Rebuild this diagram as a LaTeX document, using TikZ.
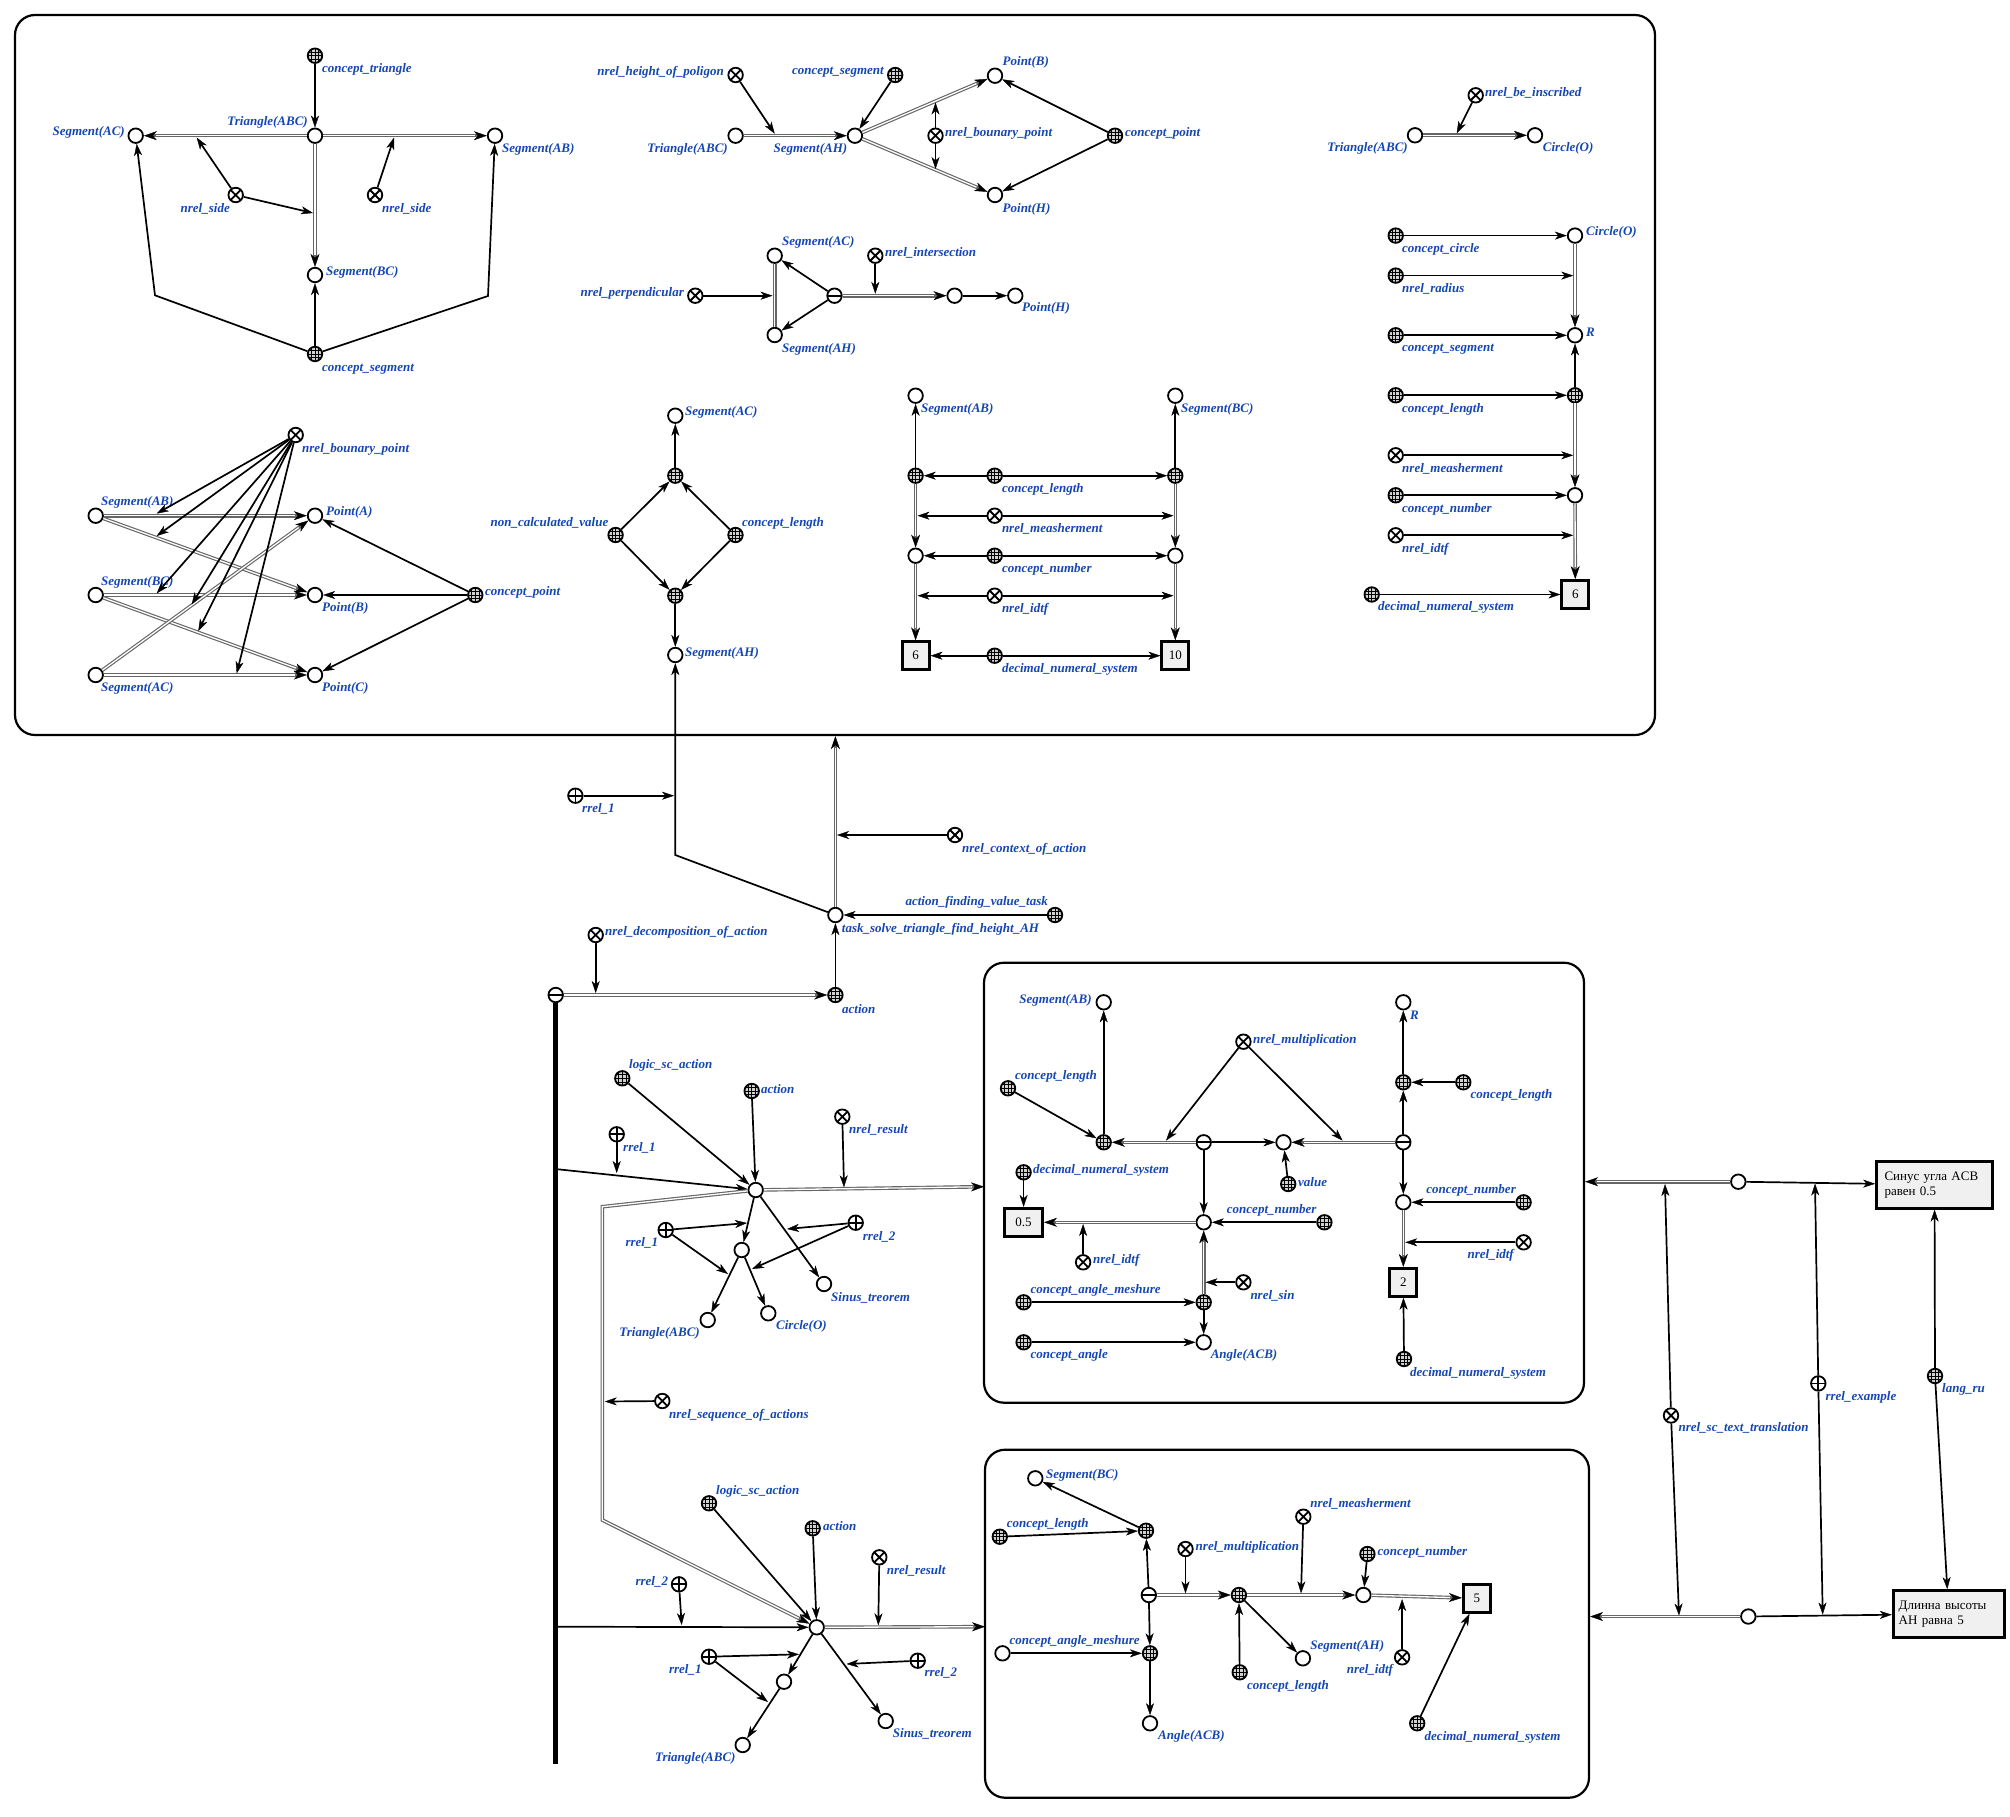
\documentclass[tikz,border=0pt]{standalone}
\usepackage{fontspec}
\setmainfont{Liberation Serif}
\newfontfamily\serif{Liberation Serif}
\usetikzlibrary{arrows.meta}
\definecolor{lblblue}{RGB}{20,70,180}
\newcommand{\lblw}[3]{\node[lbl,anchor=west] (#1) at (#2) {#3};}
\newcommand{\lble}[3]{\node[lbl,anchor=east] (#1) at (#2) {#3};}
\tikzset{
  nd/.style={circle, draw, line width=1.8pt, fill=white, minimum size=14.5pt, inner sep=0pt},
  plain/.style={nd},
  cls/.style={nd, fill=gray!35, path picture={
     \foreach \d in {-3.6,0,3.6}{
       \draw[line width=0.7pt] ([xshift=\d pt]path picture bounding box.north) -- ([xshift=\d pt]path picture bounding box.south);
       \draw[line width=0.7pt] ([yshift=\d pt]path picture bounding box.west) -- ([yshift=\d pt]path picture bounding box.east);}}},
  rel/.style={nd, path picture={\draw[line width=1.8pt] (path picture bounding box.north west) -- (path picture bounding box.south east) (path picture bounding box.north east) -- (path picture bounding box.south west);}},
  role/.style={nd, path picture={\draw[line width=1.8pt] (path picture bounding box.north) -- (path picture bounding box.south) (path picture bounding box.west) -- (path picture bounding box.east);}},
  tup/.style={nd, path picture={\draw[line width=1.8pt] (path picture bounding box.west) -- (path picture bounding box.east);}},
  lnk/.style={draw, line width=2.8pt, fill=gray!12, minimum width=27pt, minimum height=28pt, inner sep=2pt,
     font=\serif\fontsize{13}{15}\selectfont,
     path picture={\fill (path picture bounding box.north west) -- ++(7pt,0pt) -- ++(-7pt,-7pt) -- cycle;}},
  txtl/.style={lnk, minimum width=116pt, minimum height=47pt, align=left, text width=100pt, inner sep=5pt},
  contour/.style={draw, line width=2.2pt, rounded corners=20pt, inner sep=0pt},
  lbl/.style={text=lblblue, font=\serif\bfseries\itshape\fontsize{13}{15}\selectfont, inner sep=1pt},
  arr/.style={line width=1.7pt, -{Stealth[length=12pt, width=8pt, inset=3.5pt, line width=0.4pt]}},
  dbl/.style={draw=black!60, line width=3.6pt, -{Stealth[length=13pt, width=9pt, inset=4pt, line width=0.4pt, color=black]},
     postaction={draw=white, line width=1.3pt, -, shorten >=12pt}},
  dble/.style={draw=black!60, line width=3.6pt, postaction={draw=white, line width=1.3pt}},
  bus/.style={line width=5pt}
}
\begin{document}
\begin{tikzpicture}[x=1pt,y=-1pt]
\useasboundingbox (0,0) rectangle (2010,1817);
% contours
\node[contour, minimum width=1640pt, minimum height=720pt] (C0) at (835,375) {};
\node[contour, minimum width=600pt, minimum height=440pt] (B1) at (1284,1182.7) {};
\node[contour, minimum width=604pt, minimum height=348pt] (B2) at (1287,1623.7) {};

% ---------- top-left
\node[cls] (ctri) at (315,55.7) {};
\node[plain] (tri1) at (315,135.7) {};
\node[plain] (sAC1) at (135.7,135.7) {};
\node[plain] (sAB1) at (495,135.7) {};
\node[rel] (ns1) at (235.7,195) {};
\node[rel] (ns2) at (375,195) {};
\node[plain] (sBC1) at (315,275) {};
\node[cls] (cseg1) at (315,354) {};
\coordinate (m1) at (196.7,137.6);
\coordinate (m2) at (313,213);
\coordinate (m3) at (394,137.6);
\coordinate (bL) at (155,295.3);
\coordinate (bR) at (488,296);
\lblw{lctri}{321,69}{concept\_triangle}
\lble{ltri1}{309,122.7}{Triangle(ABC)}
\lble{lsAC1}{126,132.7}{Segment(AC)}
\lblw{lsAB1}{501,149}{Segment(AB)}
\lble{lns1}{231,209}{nrel\_side}
\lblw{lns2}{381,209}{nrel\_side}
\lblw{lsBC1}{325,272.7}{Segment(BC)}
\lblw{lcseg1}{321,369}{concept\_segment}

% ---------- top-middle
\node[rel] (nhp) at (735.6,75) {};
\node[cls] (cseg2) at (895.2,75) {};
\node[plain] (tri2) at (735.6,135.7) {};
\node[plain] (sAH2) at (854.9,135.7) {};
\coordinate (m4) at (774.7,133.7);
\node[plain] (pB2) at (995,75.7) {};
\node[plain] (pH2) at (995,195) {};
\node[rel] (nbp2) at (935.5,135.7) {};
\coordinate (m5) at (935.5,102.5);
\coordinate (m6) at (935.5,169);
\node[cls] (cpt2) at (1115,135.7) {};
\lble{lnhp}{725,72.7}{nrel\_height\_of\_poligon}
\lble{lcseg2}{885,72.7}{concept\_segment}
\lble{ltri2}{729,149}{Triangle(ABC)}
\lble{lsAH2}{848.4,149}{Segment(AH)}
\lblw{lpB2}{1001.5,62.7}{Point(B)}
\lblw{lpH2}{1001.5,209}{Point(H)}
\lblw{lnbp2}{944,133.3}{nrel\_bounary\_point}
\lblw{lcpt2}{1124,133.3}{concept\_point}

\node[plain] (sAC3) at (774.7,255.7) {};
\node[plain] (sAH3) at (774.7,335) {};
\node[rel] (nperp) at (695.3,295.7) {};
\coordinate (m7) at (772.5,295.7);
\node[tup] (tup3) at (834.5,295.7) {};
\node[plain] (n3) at (954.6,295.7) {};
\node[rel] (nint) at (875.3,255.7) {};
\coordinate (m8) at (875.3,293.8);
\node[plain] (pH3) at (1015.3,295.7) {};
\lblw{lsAC3}{781,242.7}{Segment(AC)}
\lblw{lsAH3}{781,349}{Segment(AH)}
\lble{lnperp}{685,293.3}{nrel\_perpendicular}
\lblw{lnint}{884,252.7}{nrel\_intersection}
\lblw{lpH3}{1021,308.7}{Point(H)}

% ---------- top-right
\node[rel] (nbi) at (1475.7,95.3) {};
\node[plain] (tri4) at (1415,135.3) {};
\node[plain] (cO4) at (1535,135.3) {};
\coordinate (m9) at (1456.7,133.3);
\lblw{lnbi}{1484,92.7}{nrel\_be\_inscribed}
\lble{ltri4}{1409,148.4}{Triangle(ABC)}
\lblw{lcO4}{1541.7,148.4}{Circle(O)}

\node[cls] (ccirc) at (1395.7,235.6) {};
\node[plain] (cO5) at (1575,235.6) {};
\node[cls] (nrad) at (1395.7,275.6) {};
\node[plain] (R5) at (1575,335.3) {};
\coordinate (m10) at (1573.2,275.6);
\node[cls] (cseg5) at (1395.7,335.3) {};
\node[cls] (clen5) at (1395.7,395.3) {};
\node[cls] (k5) at (1575,395.3) {};
\node[rel] (nmeas5) at (1395.7,455.3) {};
\coordinate (m11) at (1573.2,455.3);
\node[plain] (v5) at (1575,495.3) {};
\node[cls] (cnum5) at (1395.7,495.3) {};
\node[rel] (nidtf5) at (1395.7,535.3) {};
\coordinate (m12) at (1573.2,535.3);
\node[lnk] (l6a) at (1575.3,594.5) {6};
\node[cls] (dns5) at (1371.7,594.5) {};
\lblw{lccirc}{1401,249}{concept\_circle}
\lblw{lcO5}{1585,232.7}{Circle(O)}
\lblw{lnrad}{1401,289}{nrel\_radius}
\lblw{lR5}{1585,332.7}{R}
\lblw{lcseg5}{1401,349}{concept\_segment}
\lblw{lclen5}{1401,409}{concept\_length}
\lblw{lnmeas5}{1401,469}{nrel\_measherment}
\lblw{lcnum5}{1401,509}{concept\_number}
\lblw{lnidtf5}{1401,549}{nrel\_idtf}
\lblw{ldns5}{1377,607.3}{decimal\_numeral\_system}

% ---------- middle-left
\node[rel] (nbp4) at (295.7,435) {};
\node[plain] (sAB4) at (95.7,515.7) {};
\node[plain] (sBC4) at (95.7,595) {};
\node[plain] (sAC4) at (95.7,675) {};
\node[plain] (pA4) at (315,515.7) {};
\node[plain] (pB4) at (315,595) {};
\node[plain] (pC4) at (315,675) {};
\node[cls] (cpt4) at (475.3,595) {};
\coordinate (c1) at (156.7,513.6);
\coordinate (c2) at (156.7,536);
\coordinate (c3) at (156.7,593.4);
\coordinate (c4) at (191.7,604.5);
\coordinate (c5) at (198.3,631);
\coordinate (c6) at (236.7,673.4);
\lblw{lnbp4}{301,449}{nrel\_bounary\_point}
\lblw{lsAB4}{100,502.3}{Segment(AB)}
\lblw{lsBC4}{100,582.7}{Segment(BC)}
\lblw{lsAC4}{100,688.3}{Segment(AC)}
\lblw{lpA4}{325,512.7}{Point(A)}
\lblw{lpB4}{321,608.3}{Point(B)}
\lblw{lpC4}{321,688.3}{Point(C)}
\lblw{lcpt4}{484,592.7}{concept\_point}

% ---------- middle-centre
\node[plain] (sAC6) at (675.3,415.7) {};
\node[cls] (k6t) at (675.3,475.7) {};
\node[cls] (ncv) at (615.6,535) {};
\node[cls] (clen6) at (735.5,535) {};
\node[cls] (k6b) at (675.3,595.7) {};
\node[plain] (sAH6) at (675.3,655) {};
\lblw{lsAC6}{684,412.7}{Segment(AC)}
\lble{lncv}{609.5,523.3}{non\_calculated\_value}
\lblw{lclen6}{741,523.3}{concept\_length}
\lblw{lsAH6}{684,653.3}{Segment(AH)}

\node[plain] (sAB7) at (915.6,395.7) {};
\node[plain] (sBC7) at (1175.3,395.7) {};
\node[cls] (kL) at (915.6,475.7) {};
\node[cls] (kR) at (1175.3,475.7) {};
\node[cls] (clen7) at (994.7,475.7) {};
\node[rel] (nmeas7) at (994.7,515.7) {};
\node[plain] (vL) at (915.6,555.7) {};
\node[plain] (vR) at (1175.3,555.7) {};
\node[cls] (cnum7) at (994.7,555.7) {};
\node[rel] (nidtf7) at (994.7,595.7) {};
\node[lnk] (l6) at (915.6,655.7) {6};
\node[lnk] (l10) at (1175.3,655.7) {10};
\node[cls] (dns7) at (994.7,655.7) {};
\coordinate (mL1) at (917.5,515.7);
\coordinate (mR1) at (1173.5,515.7);
\coordinate (mL2) at (917.5,595.7);
\coordinate (mR2) at (1173.5,595.7);
\lblw{lsAB7}{920,409}{Segment(AB)}
\lblw{lsBC7}{1180,409}{Segment(BC)}
\lblw{lclen7}{1000.8,489}{concept\_length}
\lblw{lnmeas7}{1000.8,529}{nrel\_measherment}
\lblw{lcnum7}{1000.8,569}{concept\_number}
\lblw{lnidtf7}{1000.8,609}{nrel\_idtf}
\lblw{ldns7}{1000.8,669}{decimal\_numeral\_system}

% ---------- task
\node[role] (rr1a) at (575.4,795.7) {};
\node[plain] (task) at (835.4,915) {};
\coordinate (bT) at (675.3,855);
\coordinate (m13) at (674,795.7);
\node[rel] (nctx) at (955,835) {};
\coordinate (m14) at (837,835);
\node[cls] (afvt) at (1055,915) {};
\node[cls] (act0) at (835.4,995) {};
\node[tup] (tup0) at (555.7,995) {};
\node[rel] (ndec) at (595.7,935) {};
\coordinate (m15) at (595.7,993);
\coordinate (busend) at (555.7,1764);
\lblw{lrr1a}{581,809}{rrel\_1}
\lblw{ltask}{840.7,929}{task\_solve\_triangle\_find\_height\_AH}
\lblw{lnctx}{961,849}{nrel\_context\_of\_action}
\lble{lafvt}{1049,902.7}{action\_finding\_value\_task}
\lblw{lact0}{841,1009}{action}
\lblw{lndec}{604,932.7}{nrel\_decomposition\_of\_action}

% ---------- first action
\node[cls] (lsa1) at (622.3,1078.3) {};
\node[cls] (act1) at (751.7,1091) {};
\node[rel] (nres1) at (842.3,1116.7) {};
\node[role] (rr1b) at (616.7,1134.3) {};
\node[plain] (A1) at (755.7,1190) {};
\coordinate (bus1) at (558,1169.3);
\coordinate (m16) at (616.7,1173);
\coordinate (b1in) at (984,1186.7);
\coordinate (m17) at (844,1187.3);
\node[role] (rr1c) at (665.7,1230) {};
\node[role] (rr2c) at (855.7,1222.7) {};
\node[plain] (B1n) at (741.7,1250) {};
\node[plain] (sin1) at (824,1284) {};
\node[plain] (tri8) at (707.7,1320) {};
\node[plain] (cO8) at (768.3,1313.3) {};
\coordinate (m18) at (747,1223);
\coordinate (m19) at (728,1274);
\coordinate (m20) at (787,1229);
\coordinate (m21) at (752,1269);
\node[rel] (nseq) at (662.3,1401) {};
\coordinate (m22) at (604.8,1401.5);
\coordinate (dA) at (602.3,1206.7);
\coordinate (dB) at (602.3,1520);
\lblw{llsa1}{628,1065.7}{logic\_sc\_action}
\lblw{lact1}{760,1089}{action}
\lblw{lnres1}{848,1130}{nrel\_result}
\lblw{lrr1b}{622,1147.7}{rrel\_1}
\lble{lrr1c}{659.3,1243.3}{rrel\_1}
\lblw{lrr2c}{861.7,1236.7}{rrel\_2}
\lblw{lsin1}{830,1297.7}{Sinus\_treorem}
\lble{ltri8}{701,1333.3}{Triangle(ABC)}
\lblw{lcO8}{775,1326.7}{Circle(O)}
\lblw{lnseq}{668,1415}{nrel\_sequence\_of\_actions}

% ---------- second action
\node[cls] (lsa2) at (709,1503.3) {};
\node[cls] (act2) at (812.7,1528.3) {};
\node[rel] (nres2) at (879.3,1557.3) {};
\node[role] (rr2d) at (679,1584.3) {};
\node[plain] (A2) at (816.7,1627.3) {};
\coordinate (bus2) at (558,1626.7);
\coordinate (m23) at (681.7,1625);
\coordinate (b2in) at (985,1626.7);
\coordinate (m24) at (878.3,1625.3);
\node[role] (rr1d) at (709,1656.7) {};
\node[plain] (B2n) at (784,1681.7) {};
\node[plain] (tri9) at (742.7,1745) {};
\node[role] (rr2e) at (917.7,1660.7) {};
\node[plain] (sin2) at (885.7,1721) {};
\coordinate (m25) at (799,1654.3);
\coordinate (m26) at (768,1702);
\coordinate (m27) at (846.5,1664);
\lblw{llsa2}{715,1491}{logic\_sc\_action}
\lblw{lact2}{822,1526}{action}
\lblw{lnres2}{885.7,1570.7}{nrel\_result}
\lble{lrr2d}{669.3,1581.7}{rrel\_2}
\lble{lrr1d}{702.7,1670}{rrel\_1}
\lble{ltri9}{736.7,1758.3}{Triangle(ABC)}
\lblw{lrr2e}{923.3,1673.3}{rrel\_2}
\lblw{lsin2}{891.7,1734.3}{Sinus\_treorem}

% ---------- box 1
\node[plain] (sAB10) at (1103.7,1002.3) {};
\node[cls] (clen10) at (1008,1088.3) {};
\node[cls] (C1) at (1103.7,1142.3) {};
\node[tup] (T1) at (1203.7,1142.3) {};
\node[rel] (nmul10) at (1243.4,1041.7) {};
\coordinate (m28) at (1166,1140.6);
\node[plain] (V) at (1283.5,1142.3) {};
\node[cls] (val) at (1288.2,1184) {};
\node[tup] (T2) at (1403.3,1142.3) {};
\coordinate (m29) at (1342.6,1140.6);
\node[plain] (R10) at (1403.3,1002.3) {};
\node[cls] (C2) at (1403.3,1082.3) {};
\node[cls] (clen10b) at (1463.3,1082.3) {};
\node[plain] (P1) at (1403.3,1202.3) {};
\node[cls] (cnum10b) at (1523.6,1202.3) {};
\node[lnk] (l2) at (1403.3,1282.3) {2};
\node[rel] (nidtf10b) at (1523.6,1242.3) {};
\coordinate (m30) at (1405.2,1242.3);
\node[cls] (dns10b) at (1404,1359) {};
\node[cls] (dns10a) at (1023.6,1172.3) {};
\node[lnk, minimum width=38pt] (l05) at (1023.6,1222.3) {0.5};
\node[plain] (N1) at (1203.7,1222.3) {};
\node[rel] (nidtf10a) at (1083.1,1262.3) {};
\coordinate (m31) at (1083.1,1224);
\node[cls] (cnum10a) at (1324.4,1222.3) {};
\node[cls] (C3) at (1203.7,1302.3) {};
\node[rel] (nsin) at (1243.4,1282.3) {};
\coordinate (m32) at (1205.5,1282.3);
\node[cls] (cam10) at (1023.6,1302.3) {};
\node[plain] (ang10) at (1203.7,1342.3) {};
\node[cls] (ca10) at (1023.6,1342.3) {};
\lble{lsAB10}{1092.8,1000}{Segment(AB)}
\lblw{lclen10}{1014,1076}{concept\_length}
\lblw{lnmul10}{1252,1040}{nrel\_multiplication}
\lblw{lval}{1297,1181.7}{value}
\lblw{lR10}{1409,1015.7}{R}
\lblw{lclen10b}{1469.5,1095.7}{concept\_length}
\lble{lcnum10b}{1517,1190}{concept\_number}
\lble{lnidtf10b}{1515,1255.7}{nrel\_idtf}
\lblw{ldns10b}{1409,1373.3}{decimal\_numeral\_system}
\lblw{ldns10a}{1032,1170.7}{decimal\_numeral\_system}
\lblw{lnidtf10a}{1092,1260}{nrel\_idtf}
\lble{lcnum10a}{1317.7,1210}{concept\_number}
\lblw{lnsin}{1249.3,1295.7}{nrel\_sin}
\lblw{lcam10}{1029.4,1290}{concept\_angle\_meshure}
\lblw{lang10}{1209.6,1355.7}{Angle(ACB)}
\lblw{lca10}{1029.4,1355.7}{concept\_angle}

% ---------- box 2
\node[plain] (sBC11) at (1035.3,1478.3) {};
\node[cls] (D1) at (1146,1530.7) {};
\node[cls] (clen11) at (999.8,1536.7) {};
\node[tup] (T3) at (1148.8,1595) {};
\node[rel] (nmul11) at (1185.5,1549) {};
\coordinate (m33) at (1185.5,1593.3);
\node[cls] (D2) at (1238.9,1595) {};
\node[rel] (nmeas11) at (1303.3,1516.7) {};
\coordinate (m34) at (1301,1593.3);
\node[plain] (N2) at (1363.4,1595) {};
\node[cls] (cnum11) at (1367.4,1554) {};
\node[lnk] (l5) at (1476.8,1598.3) {5};
\node[rel] (nidtf11) at (1402.1,1657.3) {};
\coordinate (m35) at (1402.1,1599);
\node[cls] (dns11) at (1417.2,1723.3) {};
\node[cls] (clen11b) at (1239.7,1672.3) {};
\node[plain] (sAH11) at (1302.9,1658.3) {};
\node[cls] (D3) at (1150,1653.3) {};
\node[plain] (cam11) at (1002.5,1653.3) {};
\node[plain] (ang11) at (1150,1723.3) {};
\lblw{lsBC11}{1045,1475.7}{Segment(BC)}
\lblw{lclen11}{1005.7,1524.3}{concept\_length}
\lblw{lnmul11}{1194.5,1547.3}{nrel\_multiplication}
\lblw{lnmeas11}{1309.2,1504}{nrel\_measherment}
\lblw{lcnum11}{1376.5,1552.3}{concept\_number}
\lble{lnidtf11}{1394.2,1670.7}{nrel\_idtf}
\lblw{ldns11}{1423.5,1737.7}{decimal\_numeral\_system}
\lblw{lclen11b}{1246,1686.7}{concept\_length}
\lblw{lsAH11}{1309.2,1646}{Segment(AH)}
\lblw{lcam11}{1008.5,1641.7}{concept\_angle\_meshure}
\lblw{lang11}{1157,1736.7}{Angle(ACB)}

% ---------- right side
\node[plain] (U) at (1738.3,1181.7) {};
\node[txtl] (txt1) at (1934.5,1184.7) {Синус угла ACB\\равен 0.5};
\node[plain] (L) at (1748.3,1616.5) {};
\node[txtl, minimum width=111pt] (txt2) at (1948.7,1614) {Длинна высоты\\АН равна 5};
\node[rel] (ntr) at (1671,1415.5) {};
\coordinate (m36) at (1665,1184);
\coordinate (m37) at (1679,1615.5);
\node[role] (rex) at (1818.3,1383.4) {};
\coordinate (m38) at (1815,1183.5);
\coordinate (m39) at (1822.7,1614.5);
\node[cls] (lang) at (1935,1376) {};
\lblw{lntr}{1677.3,1428.3}{nrel\_sc\_text\_translation}
\lblw{lrex}{1824.3,1396.9}{rrel\_example}
\lblw{llang}{1941,1389.5}{lang\_ru}

% ================= connectors
% top-left
\draw[arr] (ctri) -- (tri1);
\draw[dbl] (tri1) -- (sAC1);
\draw[dbl] (tri1) -- (sAB1);
\draw[dbl] (tri1) -- (sBC1);
\draw[arr] (ns1) -- (m1);
\draw[arr] (ns1) -- (m2);
\draw[arr] (ns2) -- (m3);
\draw[arr] (cseg1) -- (sBC1);
\draw[arr] (cseg1) -- (bL) -- (sAC1);
\draw[arr] (cseg1) -- (bR) -- (sAB1);
% top-middle
\draw[dbl] (tri2) -- (sAH2);
\draw[arr] (nhp) -- (m4);
\draw[arr] (cseg2) -- (sAH2);
\draw[dbl] (sAH2) -- (pB2);
\draw[dbl] (sAH2) -- (pH2);
\draw[arr] (nbp2) -- (m5);
\draw[arr] (nbp2) -- (m6);
\draw[arr] (cpt2) -- (pB2);
\draw[arr] (cpt2) -- (pH2);
\draw[dble] (sAC3) -- (sAH3);
\draw[arr] (nperp) -- (m7);
\draw[arr] (tup3) -- (sAC3);
\draw[arr] (tup3) -- (sAH3);
\draw[dbl] (tup3) -- (n3);
\draw[arr] (nint) -- (m8);
\draw[arr] (n3) -- (pH3);
% top-right
\draw[dbl] (tri4) -- (cO4);
\draw[arr] (nbi) -- (m9);
\draw[arr] (ccirc) -- (cO5);
\draw[dbl] (cO5) -- (R5);
\draw[arr] (nrad) -- (m10);
\draw[arr] (cseg5) -- (R5);
\draw[arr] (clen5) -- (k5);
\draw[arr] (k5) -- (R5);
\draw[dbl] (k5) -- (v5);
\draw[arr] (nmeas5) -- (m11);
\draw[arr] (cnum5) -- (v5);
\draw[dbl] (v5) -- (l6a);
\draw[arr] (nidtf5) -- (m12);
\draw[arr] (dns5) -- (l6a);
% middle-left
\draw[dbl] (sAB4) -- (pA4);
\draw[dbl] (sAB4) -- (pB4);
\draw[dbl] (sBC4) -- (pB4);
\draw[dbl] (sBC4) -- (pC4);
\draw[dbl] (sAC4) -- (pC4);
\draw[dbl] (sAC4) -- (pA4);
\foreach \c in {c1,c2,c3,c4,c5,c6} \draw[arr] (nbp4) -- (\c);
\draw[arr] (cpt4) -- (pA4);
\draw[arr] (cpt4) -- (pB4);
\draw[arr] (cpt4) -- (pC4);
% middle-centre
\draw[arr] (k6t) -- (sAC6);
\draw[arr] (ncv) -- (k6t);
\draw[arr] (ncv) -- (k6b);
\draw[arr] (clen6) -- (k6t);
\draw[arr] (clen6) -- (k6b);
\draw[arr] (k6b) -- (sAH6);
\draw[arr] (kL) -- (sAB7);
\draw[arr] (kR) -- (sBC7);
\draw[arr] (clen7) -- (kL);
\draw[arr] (clen7) -- (kR);
\draw[dbl] (kL) -- (vL);
\draw[dbl] (kR) -- (vR);
\draw[arr] (nmeas7) -- (mL1);
\draw[arr] (nmeas7) -- (mR1);
\draw[arr] (cnum7) -- (vL);
\draw[arr] (cnum7) -- (vR);
\draw[dbl] (vL) -- (l6);
\draw[dbl] (vR) -- (l10);
\draw[arr] (nidtf7) -- (mL2);
\draw[arr] (nidtf7) -- (mR2);
\draw[arr] (dns7) -- (l6);
\draw[arr] (dns7) -- (l10);
% task
\draw[arr] (task) -- (bT) -- (sAH6);
\draw[arr] (rr1a) -- (m13);
\draw[dbl] (task) -- (task |- C0.south);
\draw[arr] (nctx) -- (m14);
\draw[arr] (afvt) -- (task);
\draw[arr] (act0) -- (task);
\draw[dbl] (tup0) -- (act0);
\draw[arr] (ndec) -- (m15);
\draw[bus] (tup0.south) -- (busend);
% first action
\draw[arr] (lsa1) -- (A1);
\draw[arr] (act1) -- (A1);
\draw[arr] (bus1) -- (A1);
\draw[arr] (rr1b) -- (m16);
\draw[dbl] (A1) -- (b1in);
\draw[arr] (nres1) -- (m17);
\draw[arr] (A1) -- (B1n);
\draw[arr] (A1) -- (sin1);
\draw[arr] (B1n) -- (tri8);
\draw[arr] (B1n) -- (cO8);
\draw[arr] (rr1c) -- (m18);
\draw[arr] (rr1c) -- (m19);
\draw[arr] (rr2c) -- (m20);
\draw[arr] (rr2c) -- (m21);
\draw[dbl] (A1) -- (dA) -- (dB) -- (A2);
\draw[arr] (nseq) -- (m22);
% second action
\draw[arr] (lsa2) -- (A2);
\draw[arr] (act2) -- (A2);
\draw[arr] (bus2) -- (A2);
\draw[arr] (rr2d) -- (m23);
\draw[dbl] (A2) -- (b2in);
\draw[arr] (nres2) -- (m24);
\draw[arr] (A2) -- (B2n);
\draw[arr] (A2) -- (sin2);
\draw[arr] (B2n) -- (tri9);
\draw[arr] (rr1d) -- (m25);
\draw[arr] (rr1d) -- (m26);
\draw[arr] (rr2e) -- (m27);
% box 1
\draw[arr] (C1) -- (sAB10);
\draw[arr] (clen10) -- (C1);
\draw[dbl] (T1) -- (C1);
\draw[arr] (nmul10) -- (m28);
\draw[arr] (nmul10) -- (m29);
\draw[arr] (T1) -- (V);
\draw[arr] (val) -- (V);
\draw[dbl] (T2) -- (V);
\draw[arr] (C2) -- (R10);
\draw[arr] (T2) -- (C2);
\draw[arr] (clen10b) -- (C2);
\draw[arr] (T2) -- (P1);
\draw[arr] (cnum10b) -- (P1);
\draw[dbl] (P1) -- (l2);
\draw[arr] (nidtf10b) -- (m30);
\draw[arr] (dns10b) -- (l2);
\draw[arr] (dns10a) -- (l05);
\draw[dbl] (N1) -- (l05);
\draw[arr] (T1) -- (N1);
\draw[arr] (nidtf10a) -- (m31);
\draw[arr] (cnum10a) -- (N1);
\draw[dbl] (C3) -- (N1);
\draw[arr] (nsin) -- (m32);
\draw[arr] (cam10) -- (C3);
\draw[arr] (C3) -- (ang10);
\draw[arr] (ca10) -- (ang10);
% box 2
\draw[arr] (D1) -- (sBC11);
\draw[arr] (clen11) -- (D1);
\draw[arr] (T3) -- (D1);
\draw[dbl] (T3) -- (D2);
\draw[arr] (nmul11) -- (m33);
\draw[dbl] (D2) -- (N2);
\draw[arr] (nmeas11) -- (m34);
\draw[arr] (cnum11) -- (N2);
\draw[dbl] (N2) -- (l5);
\draw[arr] (nidtf11) -- (m35);
\draw[arr] (dns11) -- (l5);
\draw[arr] (clen11b) -- (D2);
\draw[arr] (D2) -- (sAH11);
\draw[arr] (T3) -- (D3);
\draw[arr] (cam11) -- (D3);
\draw[arr] (D3) -- (ang11);
% right
\draw[dbl] (U) -- (U -| B1.east);
\draw[arr] (U) -- (txt1);
\draw[dbl] (L) -- (L -| B2.east);
\draw[arr] (L) -- (txt2);
\draw[arr] (ntr) -- (m36);
\draw[arr] (ntr) -- (m37);
\draw[arr] (rex) -- (m38);
\draw[arr] (rex) -- (m39);
\draw[arr] (lang) -- (txt1);
\draw[arr] (lang) -- (txt2);
\end{tikzpicture}
\end{document}
